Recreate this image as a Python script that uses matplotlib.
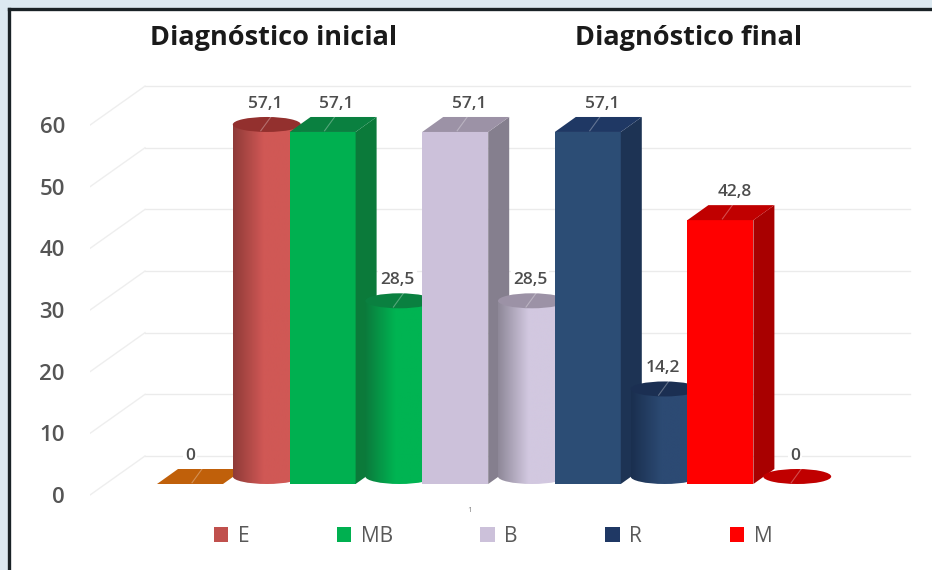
import matplotlib
matplotlib.use("Agg")
import matplotlib.pyplot as plt
from matplotlib.patches import Ellipse, Polygon, Rectangle, PathPatch
from matplotlib.path import Path
import numpy as np

W, H = 932, 570

series = ["E", "MB", "B", "R", "M"]
inicial = [0, 57.1, 57.1, 57.1, 42.8]
final = [57.1, 28.5, 28.5, 14.2, 0]
y_ticks = [0, 10, 20, 30, 40, 50, 60]

# colours per series: box front/side/top, cylinder shades
legend_col = ["#c0504d", "#00b050", "#ccc1da", "#1f3864", "#ff0000"]
box_front = ["#c0600a", "#00b050", "#ccc1da", "#2c4d75", "#ff0000"]
box_side = ["#a85208", "#0b7a3a", "#857f8e", "#1d3354", "#a80000"]
box_top = ["#c0600a", "#0a8040", "#9c92a6", "#1f3864", "#c00000"]
cyl_dark = ["#8f3a38", "#0b7a3c", "#8e8898", "#1a2f4f", "#a00000"]
cyl_light = ["#d05855", "#00b452", "#d2c8e0", "#2c4a73", "#c00000"]
cyl_top = ["#93302e", "#0a8040", "#9c92a6", "#1b2f52", "#c00000"]

PX = 6.165          # pixels per unit of value
BASE = 484          # pixel row of value 0 on the bar fronts
LEFT = 90
DX = 21             # depth of the boxes, in pixels
DY = 15 / PX        # same depth in value units
SLOT = 66.3
X0 = 157
BAR = 66
WALL_UP = (BASE - 456) / PX
FRONT_DOWN = (495 - BASE) / PX

fig = plt.figure(figsize=(W / 100, H / 100), dpi=100, facecolor="#dce9f1")
plt.rcParams["font.family"] = ["Open Sans", "DejaVu Sans"]

# white panel with the dark frame on top and left
panel = fig.add_axes([9 / W, 0, 1 - 9 / W, 1 - 9 / H], facecolor="white")
panel.set_xticks([])
panel.set_yticks([])
for s in ["right", "bottom"]:
    panel.spines[s].set_visible(False)
for s in ["top", "left"]:
    panel.spines[s].set_linewidth(2.4)
    panel.spines[s].set_color("#1a2226")

ax = fig.add_axes([LEFT / W, 0, (W - LEFT) / W, 1], facecolor="none")
for s in ax.spines.values():
    s.set_visible(False)


def draw_box(left, value, i):
    x1 = left + BAR
    if value > 0:
        ax.add_patch(Rectangle((left, 0), BAR, value, fc=box_front[i], ec="none", zorder=3))
        ax.add_patch(Polygon([(x1, 0), (x1 + DX, DY), (x1 + DX, value + DY), (x1, value)],
                             fc=box_side[i], ec="none", zorder=3))
    ax.add_patch(Polygon([(left, value), (x1, value), (x1 + DX, value + DY), (left + DX, value + DY)],
                         fc=box_top[i], ec="none", zorder=3))


def draw_cylinder(left, value, i):
    cx = left + (BAR + DX) / 2
    rx = 34
    ry = DY / 2
    k = 0.5523
    y0 = ry
    y1 = value + ry
    if value > 0:
        verts = [(cx - rx, y1), (cx - rx, y0),
                 (cx - rx, y0 - k * ry), (cx - k * rx, 0), (cx, 0),
                 (cx + k * rx, 0), (cx + rx, y0 - k * ry), (cx + rx, y0),
                 (cx + rx, y1), (cx - rx, y1)]
        codes = [Path.MOVETO, Path.LINETO, Path.CURVE4, Path.CURVE4, Path.CURVE4,
                 Path.CURVE4, Path.CURVE4, Path.CURVE4, Path.LINETO, Path.CLOSEPOLY]
        body = PathPatch(Path(verts, codes), fc="none", ec="none", zorder=3)
        ax.add_patch(body)
        # shading across the round side, dark on the left edge
        t = np.linspace(0, 1, 120)
        shade = np.clip(t / 0.45, 0, 1)[None, :, None]
        rgb = np.array(matplotlib.colors.to_rgb(cyl_dark[i]))
        rgb2 = np.array(matplotlib.colors.to_rgb(cyl_light[i]))
        img = ax.imshow(rgb + (rgb2 - rgb) * shade, extent=(cx - rx, cx + rx, 0, y1),
                        aspect="auto", zorder=3, interpolation="bilinear")
        img.set_clip_path(body)
    ax.add_patch(Ellipse((cx, y1), 2 * rx, 2 * ry, fc=cyl_top[i], ec="none", zorder=3))


def value_label(x, value):
    ax.text(x, value + DY + 13 / PX, str(value).replace(".", ","), ha="center", va="center",
            fontsize=12.5, fontweight="semibold", color="#4d4d4d", zorder=6,
            bbox=dict(fc="white", ec="none", pad=1.5))


# back wall and side wall gridlines
for v in y_ticks:
    ax.plot([145, 910], [v + WALL_UP, v + WALL_UP], color="#ebebeb", lw=1, zorder=1)
    ax.plot([LEFT, 145], [v - FRONT_DOWN, v + WALL_UP], color="#eeeeee", lw=1, zorder=1)

for i in range(len(series)):
    left = X0 + 2 * i * SLOT
    draw_box(left, inicial[i], i)
    draw_cylinder(left + SLOT, final[i], i)

for i in range(len(series)):
    left = X0 + 2 * i * SLOT
    value_label(left + BAR / 2 + (14 if inicial[i] > 0 else 0), inicial[i])
    value_label(left + SLOT + (BAR + DX) / 2 - 2, final[i])
    # leader ticks on the top faces
    cx = left + BAR / 2 + 12
    ax.plot([cx - 10, cx], [inicial[i] + 0.2, inicial[i] + DY], color="white", alpha=0.3, lw=0.8, zorder=5)
    cx = left + SLOT + (BAR + DX) / 2
    ax.plot([cx - 6, cx + 4], [final[i] + 0.2, final[i] + DY], color="white", alpha=0.3, lw=0.8, zorder=5)

ax.set_xlim(LEFT, W)
ax.set_ylim((BASE - H) / PX, BASE / PX)
ax.set_xticks([])
ax.set_yticks([v - FRONT_DOWN for v in y_ticks], labels=[str(v) for v in y_ticks])
ax.tick_params(axis="y", length=0, pad=18, labelsize=16, labelcolor="#555555")
for lab in ax.get_yticklabels():
    lab.set_fontweight("semibold")

handles = [Rectangle((0, 0), 1, 1, fc=c, ec="none") for c in legend_col]
leg = ax.legend(handles, series, ncol=5, frameon=False, loc="center",
                bbox_to_anchor=((493 - LEFT) / (W - LEFT), 1 - 536 / H),
                fontsize=15, labelcolor="#595959", handlelength=0.7, handleheight=0.7,
                handletextpad=0.45, columnspacing=4.2)

ax.text(470, (BASE - 510) / PX, "1", fontsize=6, color="#888888", ha="center", va="center")
fig.text(274 / W, 1 - 38 / H, "Diagnóstico inicial", fontsize=19.5, fontweight="bold",
         color="#1a1a1a", ha="center", va="center")
fig.text(689 / W, 1 - 38 / H, "Diagnóstico final", fontsize=19.5, fontweight="bold",
         color="#1a1a1a", ha="center", va="center")

fig.savefig("out.png", dpi=100, facecolor=fig.get_facecolor())
